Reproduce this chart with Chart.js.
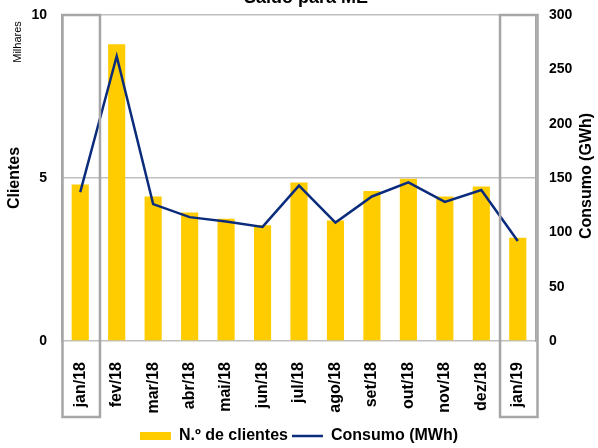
<!DOCTYPE html>
<html>
<head>
<meta charset="utf-8">
<script src="https://cdn.jsdelivr.net/npm/chart.js@4"></script>
<style>
  html, body { margin: 0; padding: 0; background: #fff; }
  #chart { display: block; }
</style>
</head>
<body>
<canvas id="chart" width="598" height="448"></canvas>
<script>
const months = ['jan/18', 'fev/18', 'mar/18', 'abr/18', 'mai/18', 'jun/18', 'jul/18',
                'ago/18', 'set/18', 'out/18', 'nov/18', 'dez/18', 'jan/19'];
// clientes in thousands (Milhares)
const clientes = [4.8, 9.1, 4.43, 3.94, 3.75, 3.55, 4.86, 3.7, 4.6, 4.98, 4.43, 4.74, 3.17];
// consumo
const consumo = [137, 262, 126, 114, 110, 105, 143, 109, 133, 146, 128, 139, 92];

const leftTicks = [0, 5, 10];
const rightTicks = [0, 50, 100, 150, 200, 250, 300];
// months that get the grey frame
const framed = ['jan/18', 'jan/19'];

const font = 'Liberation Sans, Arial, sans-serif';

function rotatedText(ctx, text, x, y, css) {
  ctx.save();
  ctx.font = css;
  ctx.translate(x, y);
  ctx.rotate(-Math.PI / 2);
  ctx.textAlign = 'center';
  ctx.textBaseline = 'middle';
  ctx.fillText(text, 0, 0);
  ctx.restore();
}

// fixed width for the y axes, and no extra space above/below for their labels
function fixY(scale) {
  scale.width = 62;
  scale.paddingTop = 0;
  scale.paddingBottom = 0;
}

// title, "Milhares", right axis title and the grey frames around jan/18 and jan/19
const extras = {
  id: 'extras',
  afterDraw(chart) {
    const ctx = chart.ctx;
    const x = chart.scales.x;
    const area = chart.chartArea;
    const half = (x.getPixelForValue(1) - x.getPixelForValue(0)) / 2;

    ctx.save();
    ctx.strokeStyle = '#a6a6a6';
    ctx.lineWidth = 2.5;
    framed.forEach(m => {
      const c = x.getPixelForValue(months.indexOf(m));
      ctx.strokeRect(c - half + 0.5, area.top, half * 2 + 1, 402);
    });

    ctx.fillStyle = '#000';
    ctx.font = 'bold 18px ' + font;
    ctx.textAlign = 'center';
    ctx.textBaseline = 'alphabetic';
    ctx.fillText('Saldo para ME', 306, 3);

    rotatedText(ctx, 'Milhares', 18, 42, '11px ' + font);
    rotatedText(ctx, 'Consumo (GWh)', 587, (area.top + area.bottom) / 2 - 2, 'bold 16px ' + font);
    ctx.restore();
  }
};

new Chart(document.getElementById('chart'), {
  data: {
    labels: months,
    datasets: [
      {
        type: 'line',
        label: 'Consumo (MWh)',
        data: consumo,
        yAxisID: 'y1',
        borderColor: '#0b2c7d',
        borderWidth: 2.5,
        pointRadius: 0,
        pointStyle: 'line',
        tension: 0,
        order: 0
      },
      {
        type: 'bar',
        label: 'N.º de clientes',
        data: clientes,
        yAxisID: 'y',
        backgroundColor: '#ffcc00',
        pointStyle: 'rect',
        categoryPercentage: 1,
        barPercentage: 0.47,
        order: 1
      }
    ]
  },
  options: {
    responsive: false,
    animation: false,
    layout: { padding: { top: 15, left: 0, right: 0, bottom: -6 } },
    plugins: {
      title: { display: false },
      tooltip: { enabled: false },
      legend: {
        position: 'bottom',
        reverse: true,
        labels: {
          usePointStyle: true,
          pointStyleWidth: 31,
          boxHeight: 8,
          padding: 4,
          color: '#000',
          font: { family: font, size: 16, weight: 'bold' }
        }
      }
    },
    scales: {
      x: {
        grid: { display: false },
        border: { display: false },
        ticks: {
          minRotation: 90,
          maxRotation: 90,
          padding: 13,
          color: '#000',
          font: { family: font, size: 16, weight: 'bold' }
        },
        afterFit(scale) { scale.height = 83; }
      },
      y: {
        position: 'left',
        min: 0,
        max: 10,
        afterBuildTicks(scale) { scale.ticks = leftTicks.map(v => ({ value: v })); },
        grid: { color: '#bfbfbf', lineWidth: 1.5, drawTicks: false },
        border: { color: '#a6a6a6', width: 1.5 },
        ticks: {
          padding: 15,
          color: '#000',
          font: { family: font, size: 14, weight: 'bold' }
        },
        title: {
          display: true,
          text: 'Clientes',
          color: '#000',
          padding: 5,
          font: { family: font, size: 16, weight: 'bold' }
        },
        afterFit: fixY
      },
      y1: {
        position: 'right',
        min: 0,
        max: 300,
        afterBuildTicks(scale) { scale.ticks = rightTicks.map(v => ({ value: v })); },
        grid: { display: false, drawTicks: false },
        border: { color: '#a6a6a6', width: 1.5 },
        ticks: {
          padding: 13,
          color: '#000',
          font: { family: font, size: 14, weight: 'bold' }
        },
        afterFit: fixY
      }
    }
  },
  plugins: [extras]
});
</script>
</body>
</html>
